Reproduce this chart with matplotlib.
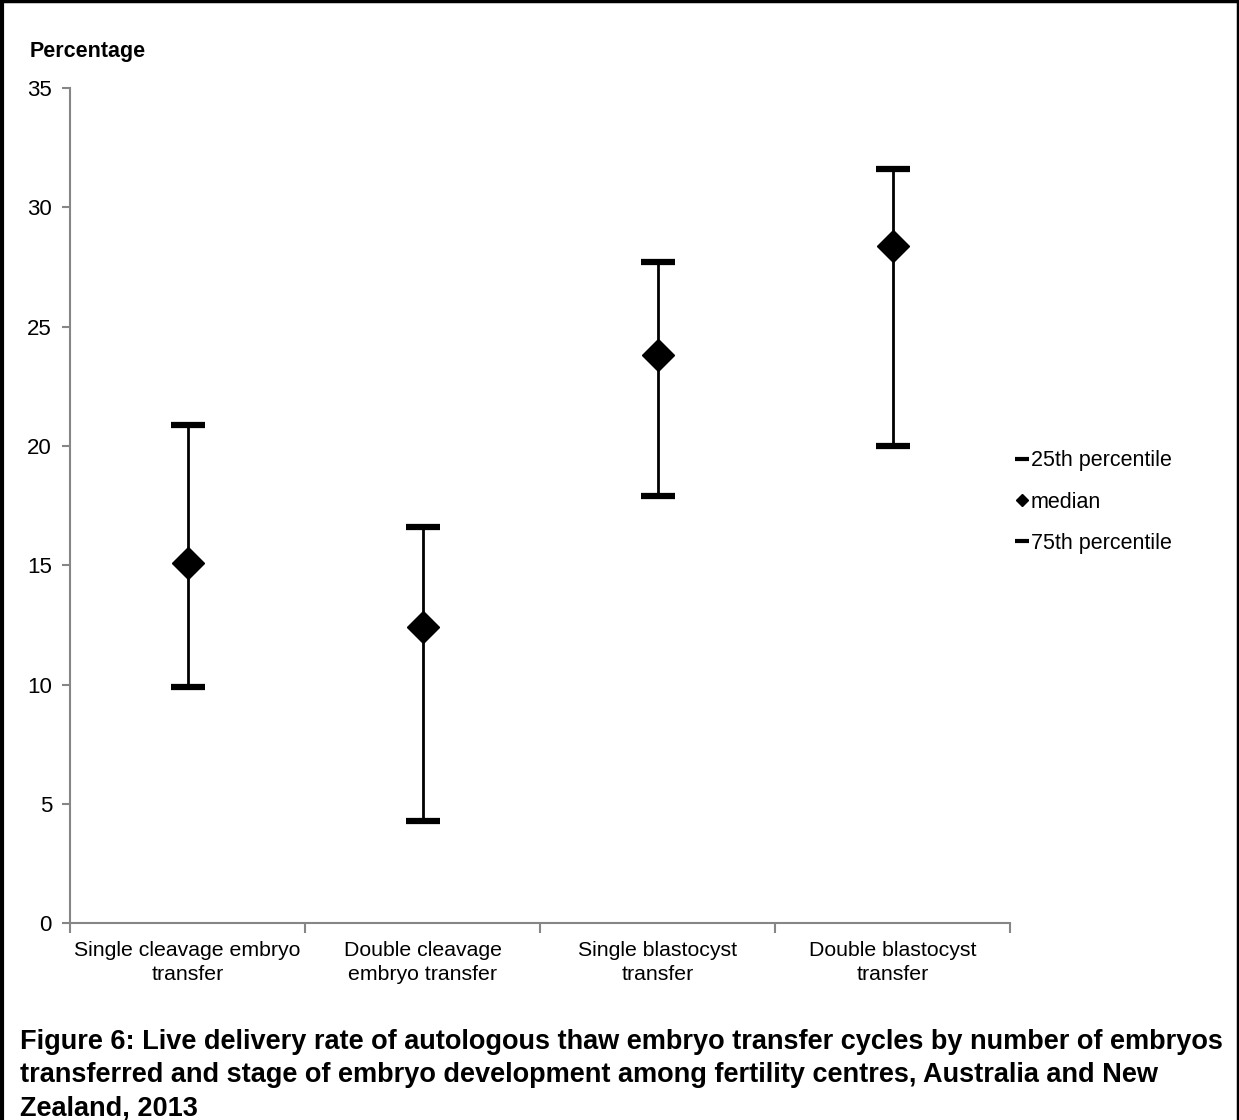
import matplotlib
matplotlib.use("Agg")
import matplotlib.pyplot as plt
from matplotlib.lines import Line2D

plt.rcParams['font.family'] = ['Liberation Sans', 'DejaVu Sans']

categories = ["Single cleavage embryo\ntransfer", "Double cleavage\nembryo transfer",
              "Single blastocyst\ntransfer", "Double blastocyst\ntransfer"]
p25 = [9.9, 4.3, 17.9, 20.0]
median = [15.1, 12.4, 23.8, 28.4]
p75 = [20.9, 16.6, 27.7, 31.6]
yticks = [0, 5, 10, 15, 20, 25, 30, 35]

W, H = 1239, 1120
fig = plt.figure(figsize=(W / 100, H / 100), dpi=100)
ax = fig.add_axes([70 / W, 1 - 923.4 / H, 940 / W, (923.4 - 88) / H])

xs = list(range(1, len(categories) + 1))
axis_col = '#868686'

# high-low lines
ax.vlines(xs, p25, p75, color='black', lw=2, zorder=2)
# caps
ax.plot(xs, p25, linestyle='none', marker='_', markersize=25, markeredgewidth=4.5, color='black', zorder=3)
ax.plot(xs, p75, linestyle='none', marker='_', markersize=25, markeredgewidth=4.5, color='black', zorder=3)
ax.plot(xs, median, linestyle='none', marker='D', markersize=16, color='black', zorder=4)

ax.set_xlim(0.5, len(categories) + 0.5)
ax.set_ylim(0, 35)
ax.set_yticks(yticks)
ax.set_yticklabels([str(v) for v in yticks], fontsize=16)
ax.set_xticks([i + 0.5 for i in range(0, len(categories) + 1)])
ax.set_xticklabels([])
ax.set_xticks(xs, minor=True)
ax.set_xticklabels(categories, minor=True, fontsize=15.3, linespacing=1.3)
ax.tick_params(axis='x', which='minor', length=0, pad=13)
ax.tick_params(axis='x', which='major', length=7, width=1.5, color=axis_col, direction='out')
ax.tick_params(axis='y', length=6, width=1.5, color=axis_col, pad=7)

for s in ['top', 'right']:
    ax.spines[s].set_visible(False)
for s in ['left', 'bottom']:
    ax.spines[s].set_color(axis_col)
    ax.spines[s].set_linewidth(1.5)

fig.text(30 / W, 1 - 52 / H, "Percentage", fontsize=15.5, fontweight='bold', va='center', ha='left')

handles = [
    Line2D([], [], linestyle='none', marker='_', markersize=10, markeredgewidth=3, color='black'),
    Line2D([], [], linestyle='none', marker='D', markersize=6, color='black'),
    Line2D([], [], linestyle='none', marker='_', markersize=10, markeredgewidth=3, color='black'),
]
fig.legend(handles, ["25th percentile", "median", "75th percentile"], loc='center left',
           bbox_to_anchor=(1008 / W, 1 - 502 / H), frameon=False, fontsize=15.5,
           handlelength=0.5, handletextpad=0.15, labelspacing=0.95, borderaxespad=0)

fig.text(20 / W, 1 - 1029 / H,
         "Figure 6: Live delivery rate of autologous thaw embryo transfer cycles by number of embryos\n"
         "transferred and stage of embryo development among fertility centres, Australia and New\n"
         "Zealand, 2013",
         fontsize=19.5, fontweight='bold', va='top', ha='left', linespacing=1.37,
         transform=fig.transFigure)

# outer border
fig.add_artist(Line2D([1.5 / W, 1.5 / W], [0, 1], color='black', lw=3, transform=fig.transFigure))
fig.add_artist(Line2D([0, 1], [1 - 1.2 / H, 1 - 1.2 / H], color='black', lw=2.5, transform=fig.transFigure))
fig.add_artist(Line2D([1 - 1.2 / W, 1 - 1.2 / W], [0, 1], color='black', lw=2.5, transform=fig.transFigure))

fig.savefig("out.png", dpi=100)
